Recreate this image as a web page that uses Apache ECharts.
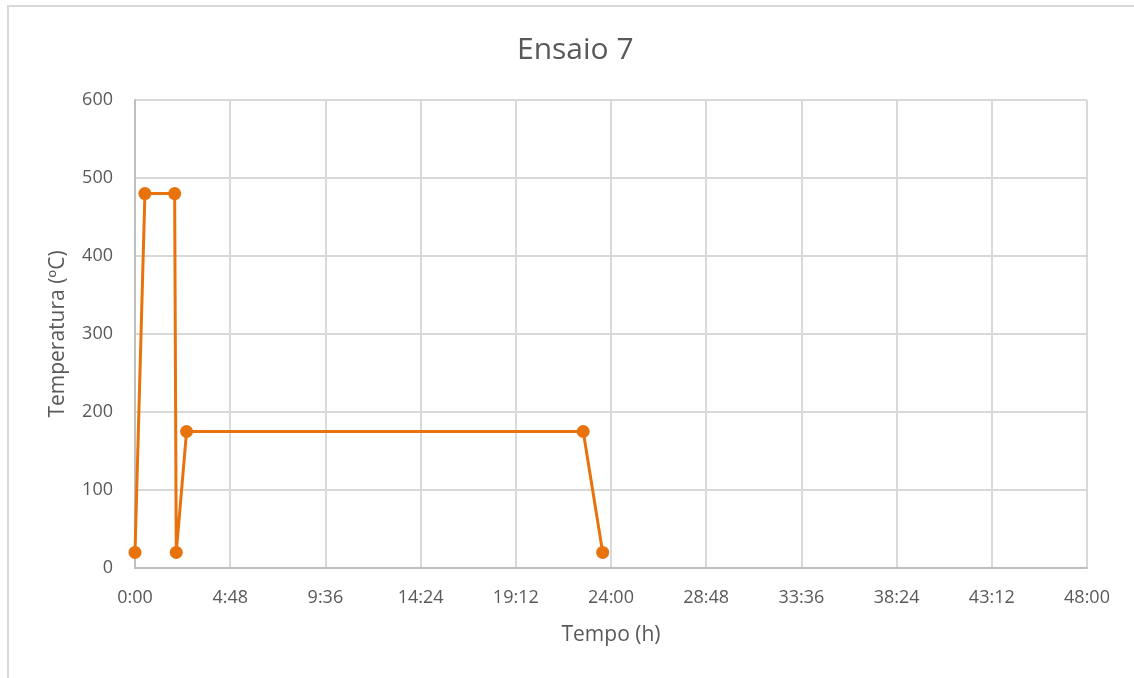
<!DOCTYPE html>
<html>
<head>
<meta charset="utf-8">
<script src="https://cdn.jsdelivr.net/npm/echarts@6/dist/echarts.min.js"></script>
<style>
  html, body { margin: 0; padding: 0; background: #fff; }
  #wrap { position: relative; width: 1134px; height: 678px; overflow: hidden; }
  #frame { position: absolute; left: 7px; top: 5px; width: 1200px; height: 800px; border-left: 2px solid #d9d9d9; border-top: 2px solid #d9d9d9; box-sizing: border-box; }
  #chart { position: absolute; left: 0; top: 0; width: 1134px; height: 678px; }
</style>
</head>
<body>
<div id="wrap">
  <div id="frame"></div>
  <div id="chart"></div>
</div>
<script>
// Time in hours, temperature in ºC
const timeHours = [0, 0.5, 2.0, 2.08, 2.6, 22.6, 23.58];
const temperature = [20, 480, 480, 20, 175, 175, 20];
const chartTitle = "Ensaio 7";
const xAxisName = "Tempo (h)";
const yAxisName = "Temperatura (ºC)";

function fmtTime(v) {
  const mins = Math.round(v * 60);
  const h = Math.floor(mins / 60);
  const m = mins % 60;
  return h + ":" + (m < 10 ? "0" + m : m);
}

const chart = echarts.init(document.getElementById('chart'), null, { renderer: 'canvas' });
const font = '"Open Sans", sans-serif';
chart.setOption({
  animation: false,
  backgroundColor: 'transparent',
  title: {
    text: chartTitle,
    left: 512,
    top: 30,
    textStyle: { fontFamily: font, fontSize: 30, fontWeight: 'normal', color: '#595959' }
  },
  grid: { left: 135, right: 47, top: 100, bottom: 110 },
  xAxis: {
    type: 'value',
    min: 0, max: 48, interval: 4.8,
    name: xAxisName,
    nameLocation: 'middle',
    nameGap: 57,
    nameTextStyle: { fontFamily: font, fontSize: 21, color: '#595959' },
    axisLine: { show: true, lineStyle: { color: '#bfbfbf', width: 2 } },
    axisTick: { show: false },
    axisLabel: { formatter: fmtTime, fontFamily: font, fontSize: 18, color: '#595959', margin: 21 },
    splitLine: { show: true, lineStyle: { color: '#d9d9d9', width: 2 } }
  },
  yAxis: {
    type: 'value',
    min: 0, max: 600, interval: 100,
    name: yAxisName,
    nameLocation: 'middle',
    nameGap: 66,
    nameTextStyle: { fontFamily: font, fontSize: 21, color: '#595959' },
    axisLine: { show: true, lineStyle: { color: '#bfbfbf', width: 2 } },
    axisTick: { show: false },
    axisLabel: { fontFamily: font, fontSize: 18, color: '#595959', margin: 22 },
    splitLine: { show: true, lineStyle: { color: '#d9d9d9', width: 2 } }
  },
  series: [{
    type: 'line',
    data: timeHours.map((t, i) => [t, temperature[i]]),
    symbol: 'circle',
    symbolSize: 13,
    lineStyle: { color: '#e8720c', width: 3 },
    itemStyle: { color: '#e8720c' }
  }]
});
</script>
</body>
</html>
